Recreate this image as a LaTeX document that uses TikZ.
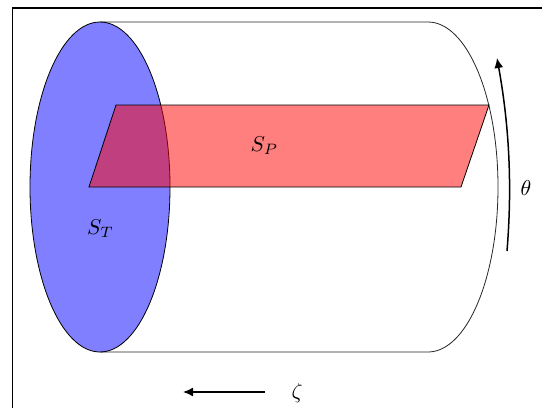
\documentclass[tikz,border=0pt]{standalone}
\usetikzlibrary{arrows.meta}
\newcommand{\labtext}[1]{\scalebox{2.15}{$#1$}}
\tikzset{
  lab/.style={inner sep=0pt},
  shell/.style={draw=black!85,line width=0.8pt},
  dirarrow/.style={line width=1.5pt,-{Latex[length=10pt,width=9pt]}}
}
\begin{document}
\begin{tikzpicture}[x=1pt,y=-1pt]
\useasboundingbox (0,0) rectangle (542,408);
\fill[white] (0,0) rectangle (542,408);
% frame, cropped at right and bottom
\draw[line width=1.2pt] (12.5,408) -- (12.5,8) -- (542,8);
% cylinder shell
\draw[shell] (100,22) -- (428,22) .. controls (466.7,22) and (498,95.9) .. (498,187) .. controls (498,278.1) and (466.7,352) .. (428,352) -- (100,352);
% end surface
\draw[fill=blue,fill opacity=0.5,line width=0.8pt] (100,187) ellipse[x radius=70,y radius=165];
% plane
\draw[fill=red,fill opacity=0.5,line width=0.8pt] (116,105) -- (489,105) -- (461,187) -- (89,187) -- cycle;
% labels
\node[lab] (st) at (100.5,229) {\labtext{S_T}};
\node[lab] (sp) at (264.5,146) {\labtext{S_P}};
\node[lab] (th) at (526,188) {\labtext{\theta}};
\node[lab] (ze) at (297,393) {\labtext{\zeta}};
% direction arrows
\coordinate (thA) at (507,251);
\coordinate (thB) at (497,58);
\coordinate (zeA) at (265,392);
\coordinate (zeB) at (183,392);
\draw[dirarrow] (thA) .. controls (512,190) and (510,130) .. (thB);
\draw[dirarrow] (zeA) -- (zeB);
\end{tikzpicture}
\end{document}
